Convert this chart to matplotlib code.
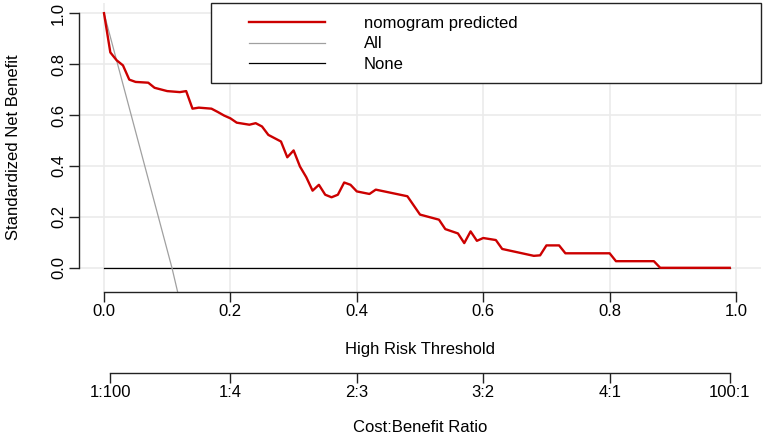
import matplotlib
matplotlib.use("Agg")
import matplotlib.pyplot as plt
from matplotlib.patches import Rectangle

plt.rcParams['font.family'] = ['Liberation Sans', 'DejaVu Sans']
plt.rcParams['font.size'] = 12

# Data
thresh = [0.00, 0.01, 0.02, 0.03, 0.04, 0.05, 0.07, 0.08, 0.10, 0.12, 0.13,
          0.14, 0.15, 0.17, 0.18, 0.19, 0.20, 0.21, 0.23, 0.24, 0.25, 0.26,
          0.28, 0.29, 0.30, 0.31, 0.32, 0.33, 0.34, 0.35, 0.36, 0.37, 0.38,
          0.39, 0.40, 0.42, 0.43, 0.48, 0.50, 0.53, 0.54, 0.56, 0.57, 0.58,
          0.59, 0.60, 0.62, 0.63, 0.68, 0.69, 0.70, 0.72, 0.73, 0.80, 0.81,
          0.87, 0.88, 0.99]
nomogram = [1.000, 0.846, 0.815, 0.795, 0.739, 0.730, 0.727, 0.707, 0.694, 0.690, 0.694,
            0.625, 0.629, 0.625, 0.612, 0.598, 0.587, 0.570, 0.562, 0.568, 0.555, 0.522,
            0.496, 0.434, 0.461, 0.398, 0.356, 0.303, 0.326, 0.287, 0.277, 0.287, 0.335,
            0.326, 0.300, 0.290, 0.307, 0.281, 0.209, 0.189, 0.152, 0.135, 0.097, 0.143,
            0.106, 0.117, 0.109, 0.074, 0.047, 0.049, 0.088, 0.088, 0.057, 0.057, 0.026,
            0.026, 0.000, 0.000]
all_x = [0.0, 0.1075, 0.117]
all_y = [1.0, 0.0, -0.10]
none_x = [0.0, 0.99]
none_y = [0.0, 0.0]

xticks = [0.0, 0.2, 0.4, 0.6, 0.8, 1.0]
yticks = [0.0, 0.2, 0.4, 0.6, 0.8, 1.0]
cb_ticks = [1/101, 0.2, 0.4, 0.6, 0.8, 100/101]
cb_labels = ['1:100', '1:4', '2:3', '3:2', '4:1', '100:1']

fig = plt.figure(figsize=(7.65, 4.34), dpi=100)
ax = fig.add_axes([0.1029, 0.3272, 0.8923, 0.6659])
ax.set_xlim(-0.04, 1.04)
ax.set_ylim(-0.095, 1.04)

for v in xticks:
    ax.axvline(v, color='#ebebeb', lw=1.2, zorder=0)
for v in yticks:
    ax.axhline(v, color='#ebebeb', lw=1.2, zorder=0)

ax.plot(none_x, none_y, color='black', lw=0.9, label='None', zorder=2)
ax.plot(all_x, all_y, color='#a0a0a0', lw=0.9, label='All', zorder=2)
ax.plot(thresh, nomogram, color='#cc0000', lw=1.7, label='nomogram predicted', zorder=3)

for s in ['top', 'right']:
    ax.spines[s].set_visible(False)
ax.spines['left'].set_bounds(0, 1)
ax.spines['bottom'].set_bounds(0, 1)
for s in ['left', 'bottom']:
    ax.spines[s].set_linewidth(1.0)
    ax.spines[s].set_color('#222222')
ax.set_xticks(xticks)
ax.set_xticklabels(['%.1f' % t for t in xticks])
ax.set_yticks(yticks)
ax.set_yticklabels(['%.1f' % t for t in yticks], rotation=90, va='center')
ax.tick_params(length=7, width=1.0, pad=2, color='#222222')
ax.set_xlabel('High Risk Threshold', labelpad=16)
ax.set_ylabel('Standardized Net Benefit', labelpad=22)

# legend box
ax.add_patch(Rectangle((0.194, 0.723), 0.806, 0.277, transform=ax.transAxes,
                       fill=True, facecolor='white', edgecolor='#222222', lw=1.0,
                       zorder=4, clip_on=False))
h, l = ax.get_legend_handles_labels()
leg = ax.legend(h[::-1], l[::-1], loc='upper left', bbox_to_anchor=(0.249, 0.955),
                frameon=False, handlelength=4.6, handletextpad=2.3,
                labelspacing=0.33, borderpad=0, borderaxespad=0)
leg.set_zorder(5)

# cost:benefit axis
ax2 = fig.add_axes([0.1029, 0.1412, 0.8923, 0.0001])
ax2.set_xlim(-0.04, 1.04)
ax2.set_yticks([])
for s in ['top', 'right', 'left']:
    ax2.spines[s].set_visible(False)
ax2.spines['bottom'].set_bounds(cb_ticks[0], cb_ticks[-1])
ax2.spines['bottom'].set_linewidth(1.0)
ax2.spines['bottom'].set_color('#222222')
ax2.set_xticks(cb_ticks)
ax2.set_xticklabels(cb_labels)
ax2.tick_params(length=7, width=1.0, pad=2, color='#222222')
ax2.set_xlabel('Cost:Benefit Ratio', labelpad=14)
ax2.patch.set_visible(False)

fig.savefig('out.png', dpi=100)
